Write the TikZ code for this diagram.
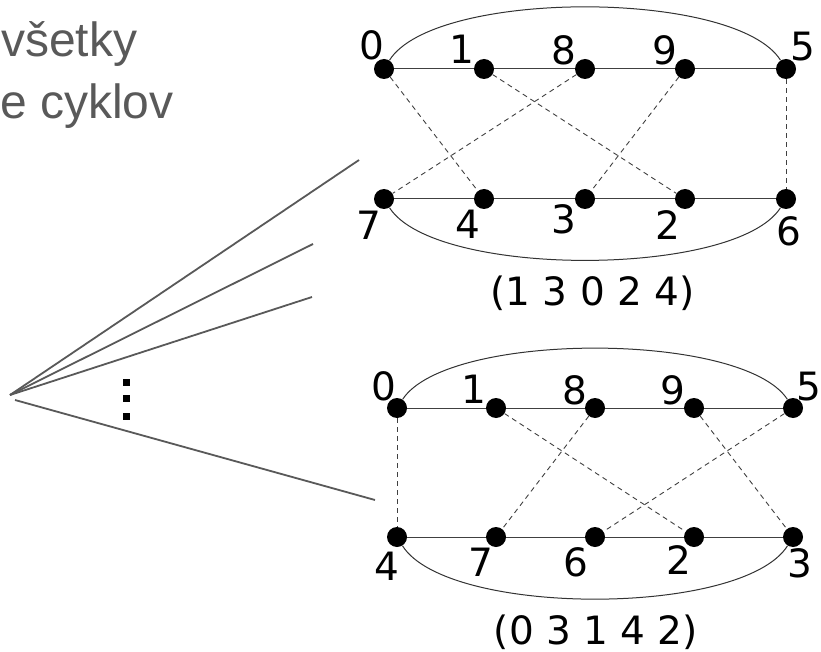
\documentclass[tikz,border=0pt]{standalone}
\usepackage{fontspec}
\setmainfont{DejaVu Sans}
\newfontfamily\arialf{Liberation Sans}
\begin{document}
\begin{tikzpicture}[x=1pt,y=-1pt,
  dot/.style={circle,fill=black,inner sep=0pt,minimum size=20pt},
  lbl/.style={font=\fontsize{39}{39}\selectfont,inner sep=0pt},
  captxt/.style={font=\fontsize{39}{39}\selectfont,inner sep=0pt,anchor=base},
  edge/.style={draw=black!75,line width=1pt},
  dedge/.style={draw=black!75,line width=0.9pt,dash pattern=on 5pt off 4pt},
  arcline/.style={draw=black!80,line width=1pt},
  fan/.style={draw=black!65,line width=1.8pt},
  ttl/.style={font=\arialf\fontsize{48}{48}\selectfont,text=black!65,inner sep=0pt,anchor=base west},
  sq/.style={fill=black,inner sep=0pt,minimum size=7pt}]
\useasboundingbox (0,0) rectangle (821,652);

% title text
\node[ttl] (t1) at (1,57) {všetky};
\node[ttl] (t2) at (0,119) {e cyklov};

% fan lines
\coordinate (apex) at (10,395);
\coordinate (apex2) at (15,400);
\coordinate (f1) at (359,160);
\coordinate (f2) at (313,244);
\coordinate (f3) at (312,297);
\coordinate (f4) at (375,500);
\draw[fan] (apex) -- (f1);
\draw[fan] (apex) -- (f2);
\draw[fan] (apex) -- (f3);
\draw[fan] (apex2) -- (f4);

% vertical dots
\node[sq] (d1) at (126,382.5) {};
\node[sq] (d2) at (126,398.5) {};
\node[sq] (d3) at (126,416) {};

% ---------- top graph ----------
\node[dot] (a0) at (384,69) {};
\node[dot] (a1) at (484,69) {};
\node[dot] (a8) at (585,69) {};
\node[dot] (a9) at (685,69) {};
\node[dot] (a5) at (786,69) {};
\node[dot] (a7) at (384,199) {};
\node[dot] (a4) at (484,199) {};
\node[dot] (a3) at (585,199) {};
\node[dot] (a2) at (685,199) {};
\node[dot] (a6) at (786,199) {};

\node[lbl] (la0) at (372,45) {0};
\node[lbl] (la1) at (462,49) {1};
\node[lbl] (la8) at (564,50) {8};
\node[lbl] (la9) at (665,50) {9};
\node[lbl] (la5) at (803,47) {5};
\node[lbl] (la7) at (369,225) {7};
\node[lbl] (la4) at (468,224) {4};
\node[lbl] (la3) at (564,219) {3};
\node[lbl] (la2) at (668,225) {2};
\node[lbl] (la6) at (789,231) {6};

\draw[edge] (a0) -- (a1) -- (a8) -- (a9) -- (a5);
\draw[edge] (a7) -- (a4) -- (a3) -- (a2) -- (a6);
\draw[dedge] (a0) -- (a4);
\draw[dedge] (a1) -- (a2);
\draw[dedge] (a8) -- (a7);
\draw[dedge] (a9) -- (a3);
\draw[dedge] (a5) -- (a6);
\draw[arcline] (a0) .. controls +(50,-80) and +(-50,-80) .. (a5);
\draw[arcline] (a7) .. controls +(50,79) and +(-50,79) .. (a6);

\node[captxt] (ca) at (592.5,305) {(1 3 0 2 4)};

% ---------- bottom graph ----------
\node[dot] (b0) at (397,408) {};
\node[dot] (b1) at (496,408) {};
\node[dot] (b8) at (595,408) {};
\node[dot] (b9) at (694,408) {};
\node[dot] (b5) at (793,408) {};
\node[dot] (b4) at (397,537) {};
\node[dot] (b7) at (496,537) {};
\node[dot] (b6) at (595,537) {};
\node[dot] (b2) at (694,537) {};
\node[dot] (b3) at (793,537) {};

\node[lbl] (lb0) at (384,386) {0};
\node[lbl] (lb1) at (474,389) {1};
\node[lbl] (lb8) at (575,390) {8};
\node[lbl] (lb9) at (673,390) {9};
\node[lbl] (lb5) at (809,387) {5};
\node[lbl] (lb4) at (387,566) {4};
\node[lbl] (lb7) at (481,562) {7};
\node[lbl] (lb6) at (576,562) {6};
\node[lbl] (lb2) at (679,560) {2};
\node[lbl] (lb3) at (800,563) {3};

\draw[edge] (b0) -- (b1) -- (b8) -- (b9) -- (b5);
\draw[edge] (b4) -- (b7) -- (b6) -- (b2) -- (b3);
\draw[dedge] (b0) -- (b4);
\draw[dedge] (b1) -- (b2);
\draw[dedge] (b8) -- (b7);
\draw[dedge] (b9) -- (b3);
\draw[dedge] (b5) -- (b6);
\draw[arcline] (b0) .. controls +(50,-77) and +(-50,-77) .. (b5);
\draw[arcline] (b4) .. controls +(50,80) and +(-50,80) .. (b3);

\node[captxt] (cb) at (596,644) {(0 3 1 4 2)};
\end{tikzpicture}
\end{document}
